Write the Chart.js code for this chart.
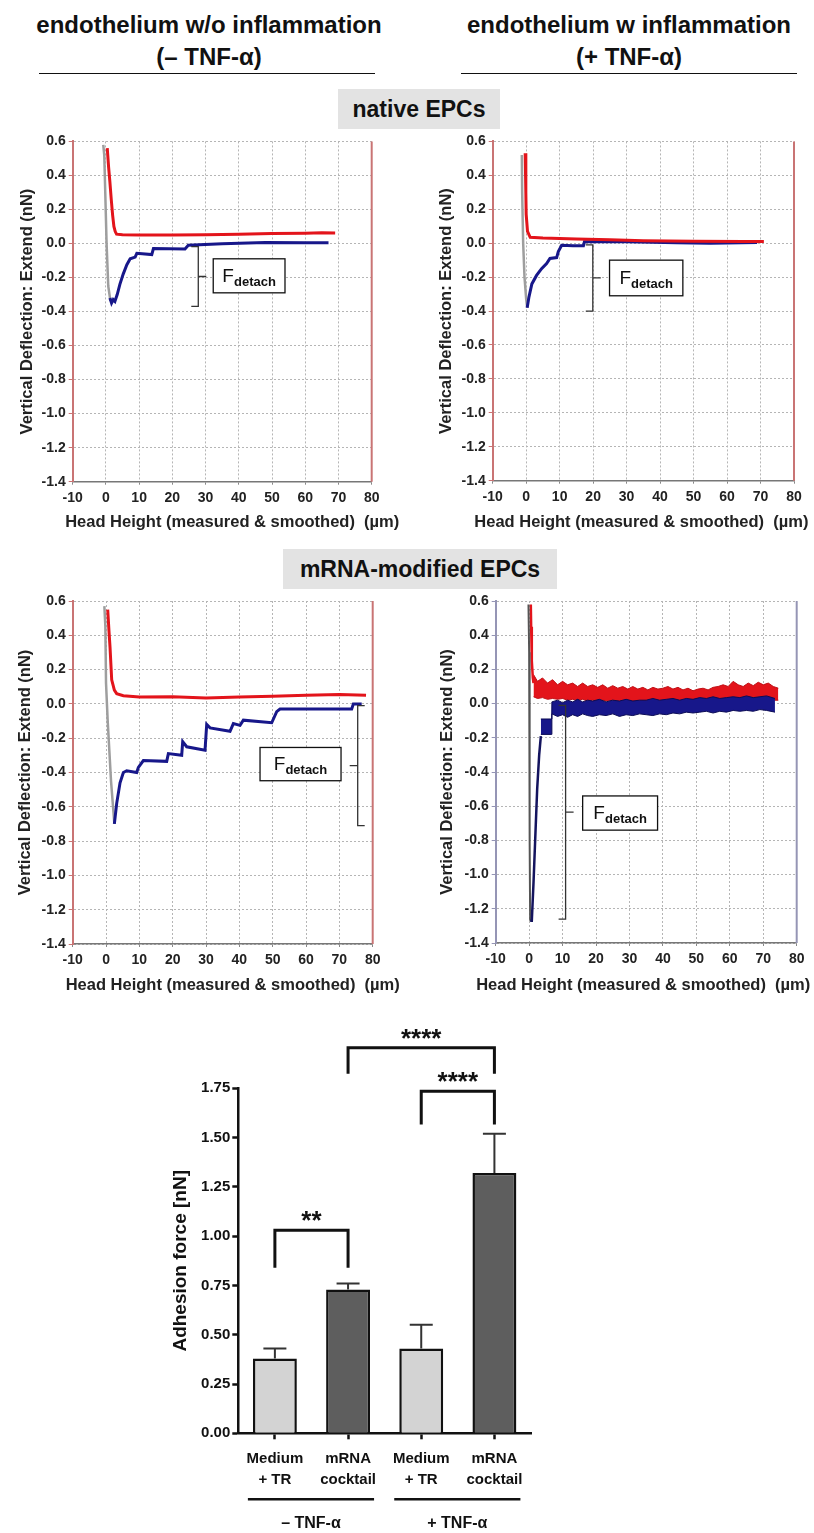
<!DOCTYPE html>
<html>
<head>
<meta charset="utf-8">
<script src="https://cdn.jsdelivr.net/npm/chart.js"></script>
<style>
  body { margin: 0; background: #fff; font-family: "Liberation Sans", Arial, sans-serif; }
  #page { position: relative; width: 814px; height: 1533px; overflow: hidden; }
  .head { position: absolute; font-weight: bold; font-size: 24px; line-height: 32px; text-align: center; color: #111; white-space: nowrap; }
  .rule { position: absolute; height: 0; border-top: 1.5px solid #111; }
  .section { position: absolute; height: 40px; line-height: 40px; background: #e3e3e3; font-weight: bold; font-size: 23px; text-align: center; color: #111; }
  canvas { position: absolute; }
</style>
</head>
<body>
<div id="page">
  <div class="head" style="left:9px;top:9px;width:400px">endothelium w/o inflammation<br>(– TNF-α)</div>
  <div class="head" style="left:429px;top:9px;width:400px">endothelium w inflammation<br>(+ TNF-α)</div>
  <div class="rule" style="left:39px;top:73px;width:336px"></div>
  <div class="rule" style="left:461px;top:73px;width:336px"></div>
  <div class="section" style="left:338px;top:89px;width:162px">native EPCs</div>
  <div class="section" style="left:283px;top:549px;width:274px">mRNA-modified EPCs</div>

  <canvas id="f-native-ctrl" width="410" height="410" style="left:0;top:130px"></canvas>
  <canvas id="f-native-tnf" width="404" height="410" style="left:410px;top:130px"></canvas>
  <canvas id="f-mrna-ctrl" width="410" height="460" style="left:0;top:540px"></canvas>
  <canvas id="f-mrna-tnf" width="404" height="460" style="left:410px;top:540px"></canvas>
  <canvas id="adhesion" width="400" height="533" style="left:160px;top:1000px"></canvas>
</div>

<script>
"use strict";

// ── force curves, [head height µm, deflection nN] ─────────────────────────────
// native EPCs, – TNF-α
const nativeCtrlApproach = [[-0.8,0.58],[-0.5,0.52],[-0.2,0.3],[0.2,0.0],[0.7,-0.25],[1.3,-0.33],[1.7,-0.34]];
const nativeCtrlExtend = [[0.4,0.56],[0.8,0.45],[1.2,0.36],[1.6,0.26],[2.0,0.17],[2.4,0.1],[2.8,0.07],[3.2,0.055],[5,0.052],[10,0.05],[20,0.05],[30,0.052],[40,0.055],[50,0.058],[60,0.06],[65,0.063],[69,0.062]];
const nativeCtrlRetract = [[1.2,-0.32],[1.7,-0.35],[2.2,-0.33],[2.7,-0.34],[3.4,-0.3],[4.2,-0.24],[5.2,-0.18],[6.3,-0.125],[7.3,-0.09],[8.8,-0.08],[9.3,-0.058],[13.8,-0.065],[14.3,-0.03],[23.8,-0.032],[24.8,-0.01],[35,-0.002],[48,0.006],[60,0.004],[67,0.005]];

// native EPCs, + TNF-α
const nativeTnfApproach = [[-1.3,0.52],[-1.2,0.3],[-0.9,0.0],[-0.5,-0.2],[0,-0.33],[0.3,-0.38]];
const nativeTnfExtend = [[-0.3,0.53],[-0.1,0.3],[0,0.17],[0.4,0.07],[1.2,0.035],[5,0.03],[15,0.025],[25,0.02],[35,0.015],[50,0.012],[65,0.01],[71,0.01]];
const nativeTnfRetract = [[0.3,-0.38],[0.8,-0.32],[1.7,-0.24],[3.1,-0.19],[4.6,-0.15],[6.1,-0.12],[7.1,-0.09],[9.1,-0.085],[9.6,-0.05],[10.6,-0.012],[14,-0.015],[17.1,-0.015],[17.4,0.008],[30,0.008],[45,0.002],[55,0.0],[69,0.004]];

// mRNA-modified EPCs, – TNF-α
const mrnaCtrlApproach = [[-0.5,0.57],[-0.2,0.45],[0,0.12],[0.5,-0.1],[1.5,-0.45],[2.5,-0.7]];
const mrnaCtrlExtend = [[0.5,0.55],[0.9,0.42],[1.2,0.33],[1.7,0.14],[2.5,0.08],[3.2,0.06],[5.2,0.048],[10,0.04],[20,0.042],[30,0.035],[40,0.04],[50,0.045],[60,0.05],[70,0.055],[78,0.05]];
const mrnaCtrlRetract = [[2.5,-0.7],[3.2,-0.58],[4.2,-0.46],[5.2,-0.4],[6.2,-0.39],[9.2,-0.4],[9.7,-0.37],[11.2,-0.33],[18.2,-0.335],[18.7,-0.29],[22.7,-0.3],[23,-0.22],[24.2,-0.25],[29.7,-0.27],[30.2,-0.12],[31.2,-0.14],[37.2,-0.16],[38.2,-0.115],[40.2,-0.125],[41.2,-0.095],[49.7,-0.11],[51.2,-0.045],[52.2,-0.03],[73.7,-0.03],[74.2,0.0],[76.7,0.0]];

// mRNA-modified EPCs, + TNF-α (noisy traces read as upper / lower edges)
const mrnaTnfApproach = [[-0.2,0.58],[0,0.3],[0.1,-0.2],[0.2,-0.8],[0.3,-1.27]];
const mrnaTnfExtendSpike = [[0.5,0.58],[0.6,0.45],[0.8,0.25],[1.1,0.15],[1.3,0.12]];
const mrnaTnfRetractRise = [[0.3,-1.27],[0.8,-1.27],[1.3,-1.05],[1.8,-0.8],[2.4,-0.5],[3.0,-0.3],[3.5,-0.19]];
const mrnaTnfExtendX  = [1.3,2.5,4,5.5,7,8.5,10,11.5,13,14.5,16,17.5,19,20.5,22,23.5,25,26.5,28,29.5,31,32.5,34,35.5,37,38.5,40,41.5,43,44.5,46,47.5,49,50.5,52,53.5,55,56.5,58,59.5,61,62.5,64,65.5,67,68.5,70,71.5,73,74.5];
const mrnaTnfExtendHi = [0.17,0.13,0.15,0.12,0.14,0.11,0.13,0.11,0.12,0.10,0.12,0.10,0.11,0.095,0.11,0.09,0.105,0.09,0.10,0.085,0.10,0.085,0.095,0.08,0.095,0.085,0.09,0.10,0.085,0.095,0.08,0.09,0.075,0.085,0.09,0.08,0.095,0.10,0.11,0.10,0.13,0.11,0.10,0.12,0.105,0.125,0.11,0.12,0.10,0.09];
const mrnaTnfExtendLo = [0.04,0.03,0.035,0.025,0.03,0.025,0.03,0.02,0.025,0.02,0.025,0.015,0.02,0.015,0.02,0.015,0.02,0.01,0.015,0.01,0.015,0.01,0.015,0.01,0.02,0.01,0.015,0.01,0.02,0.015,0.01,0.015,0.005,0.01,0.015,0.01,0.02,0.015,0.025,0.02,0.03,0.025,0.02,0.03,0.025,0.03,0.035,0.025,0.02,0.02];
const mrnaTnfRetractX  = [3.5,6.6,6.8,8.5,10,11.5,13,14.5,16,17.5,19,21,23,25,27,29,31,33,35,37,39,41,43,45,47,49,51,53,55,57,59,61,63,65,67,69,71,73.5];
const mrnaTnfRetractHi = [-0.09,-0.09,0.01,0.02,0.005,0.02,0.01,0.025,0.01,0.02,0.015,0.025,0.01,0.02,0.015,0.025,0.015,0.02,0.02,0.03,0.02,0.025,0.03,0.02,0.03,0.025,0.035,0.03,0.04,0.03,0.035,0.04,0.035,0.045,0.035,0.04,0.045,0.03];
const mrnaTnfRetractLo = [-0.18,-0.18,-0.06,-0.075,-0.065,-0.08,-0.065,-0.075,-0.06,-0.07,-0.075,-0.065,-0.07,-0.06,-0.075,-0.065,-0.07,-0.06,-0.065,-0.07,-0.06,-0.065,-0.055,-0.06,-0.05,-0.055,-0.05,-0.045,-0.055,-0.045,-0.05,-0.04,-0.045,-0.04,-0.045,-0.035,-0.04,-0.05];

// ── adhesion force bar chart ──────────────────────────────────────────────────
const barCategories = [["Medium", "+ TR"], ["mRNA", "cocktail"], ["Medium", "+ TR"], ["mRNA", "cocktail"]];
const adhesionMean = [0.38, 0.73, 0.43, 1.32];
const adhesionErr  = [0.05, 0.03, 0.12, 0.20];
const barGroups = ["– TNF-α", "+ TNF-α"];
const significance = [["**", 0, 1], ["****", 2, 3], ["****", 1, 3]];

const RED = "#e3141b";
const BLUE = "#17178a";
const GREY = "#9e9e9e";
const FONT = '"Liberation Sans", Arial, sans-serif';
const X_TITLE = "Head Height (measured & smoothed)  (µm)";

Chart.defaults.font.family = FONT;
Chart.defaults.font.weight = "bold";
Chart.defaults.color = "#222";

// ── helpers ───────────────────────────────────────────────────────────────────
const toPts = arr => arr.map(([x, y]) => ({ x, y }));
const zip = (xs, ys) => xs.map((x, i) => ({ x, y: ys[i] }));

function trace(points, color, width, order) {
  return { data: toPts(points), borderColor: color, borderWidth: width, fill: false, order };
}

function band(xs, hi, lo, fillColor, edgeColor, order) {
  return [
    { data: zip(xs, hi), borderColor: edgeColor, borderWidth: 1, fill: false, order },
    { data: zip(xs, lo), borderColor: edgeColor, borderWidth: 1, fill: "-1", backgroundColor: fillColor, order },
  ];
}

// right frame edge, x title, F_detach brace and box
const forceDecor = {
  id: "forceDecor",
  afterDraw(chart, args, o) {
    const { ctx, chartArea: a, scales: { x, y } } = chart;
    ctx.save();
    ctx.strokeStyle = o.frame;
    ctx.lineWidth = 2;
    ctx.beginPath();
    ctx.moveTo(a.right, a.top);
    ctx.lineTo(a.right, a.bottom);
    ctx.stroke();

    ctx.fillStyle = "#222";
    ctx.font = `bold 16.5px ${FONT}`;
    ctx.textAlign = "center";
    ctx.textBaseline = "middle";
    ctx.fillText(X_TITLE, (a.left + a.right) / 2 + o.titleDx, o.titleY);

    const b = o.brace;
    const bx = x.getPixelForValue(b.x), t = y.getPixelForValue(b.top), bt = y.getPixelForValue(b.bottom);
    const mid = (t + bt) / 2;
    ctx.strokeStyle = "#333";
    ctx.lineWidth = 1.3;
    ctx.beginPath();
    ctx.moveTo(bx - 7 * b.dir, t); ctx.lineTo(bx, t); ctx.lineTo(bx, bt); ctx.lineTo(bx - 7 * b.dir, bt);
    ctx.moveTo(bx, mid); ctx.lineTo(bx + 8 * b.dir, mid);
    ctx.stroke();

    const bb = o.box;
    const x0 = x.getPixelForValue(bb.x0), x1 = x.getPixelForValue(bb.x1);
    const y0 = y.getPixelForValue(bb.y0), y1 = y.getPixelForValue(bb.y1);
    ctx.fillStyle = "#fff";
    ctx.fillRect(x0, y0, x1 - x0, y1 - y0);
    ctx.strokeStyle = "#111";
    ctx.lineWidth = 1.3;
    ctx.strokeRect(x0, y0, x1 - x0, y1 - y0);

    ctx.fillStyle = "#111";
    ctx.textAlign = "left";
    ctx.textBaseline = "alphabetic";
    ctx.font = `normal 19px ${FONT}`;
    const wF = ctx.measureText("F").width;
    ctx.font = `bold 13px ${FONT}`;
    const wS = ctx.measureText("detach").width;
    const sx = (x0 + x1) / 2 - (wF + wS) / 2;
    const base = (y0 + y1) / 2 + 6;
    ctx.font = `normal 19px ${FONT}`;
    ctx.fillText("F", sx, base);
    ctx.font = `bold 13px ${FONT}`;
    ctx.fillText("detach", sx + wF, base + 4);
    ctx.restore();
  },
};

function forcePanel(id, p) {
  return new Chart(document.getElementById(id), {
    type: "line",
    data: { datasets: p.datasets },
    plugins: [forceDecor],
    options: {
      responsive: false,
      animation: false,
      devicePixelRatio: 1,
      layout: { padding: { top: p.top, right: p.right, left: 0, bottom: 0 } },
      elements: { point: { radius: 0 }, line: { tension: 0 } },
      plugins: {
        legend: { display: false },
        tooltip: { enabled: false },
        forceDecor: { frame: p.frame, brace: p.brace, box: p.box, titleDx: p.titleDx, titleY: p.titleY },
      },
      scales: {
        x: {
          type: "linear", min: -10, max: 80,
          afterFit: s => { s.height = p.xh; },
          ticks: { stepSize: 10, padding: 5, maxRotation: 0, font: { size: 14 } },
          grid: { color: "#b5b5b5", tickLength: 3, tickColor: "#888", tickBorderDash: [] },
          border: { color: "#777", width: 1.5, dash: [2, 2] },
        },
        y: {
          min: -1.4, max: 0.6,
          afterFit: s => { s.width = p.yw; },
          ticks: { stepSize: 0.2, padding: 3, font: { size: 14 }, callback: v => (Math.round(v * 10) / 10).toFixed(1) },
          grid: { color: "#b5b5b5", tickLength: 4, tickColor: p.frame, tickBorderDash: [] },
          border: { color: p.frame, width: 2, dash: [2, 2] },
          title: { display: true, text: "Vertical Deflection: Extend (nN)", font: { size: 16.5 }, padding: { top: p.ytPad, bottom: 0 } },
        },
      },
    },
  });
}

// ── force panels ──────────────────────────────────────────────────────────────
forcePanel("f-native-ctrl", {
  top: 9.3, right: 38.3, yw: 72.7, xh: 58.3, ytPad: 17.1, titleDx: 10, titleY: 392, frame: "#c97474",
  brace: { x: 27.8, top: -0.018, bottom: -0.37, dir: 1 },
  box: { x0: 32.3, x1: 53.9, y0: -0.09, y1: -0.29 },
  datasets: [
    trace(nativeCtrlApproach, GREY, 2.5, 3),
    trace(nativeCtrlExtend, RED, 3, 2),
    trace(nativeCtrlRetract, BLUE, 3, 1),
  ],
});

forcePanel("f-native-tnf", {
  top: 9.3, right: 20, yw: 82.7, xh: 59.3, ytPad: 26.8, titleDx: -2, titleY: 392, frame: "#c97474",
  brace: { x: 19.9, top: -0.01, bottom: -0.40, dir: 1 },
  box: { x0: 24.9, x1: 46.8, y0: -0.10, y1: -0.31 },
  datasets: [
    trace(nativeTnfApproach, GREY, 2.5, 3),
    trace(nativeTnfRetract, BLUE, 3, 2),
    trace(nativeTnfExtend, RED, 3, 1),
  ],
});

forcePanel("f-mrna-ctrl", {
  top: 61, right: 37.3, yw: 72.7, xh: 56, ytPad: 15.1, titleDx: 10, titleY: 445, frame: "#c97474",
  brace: { x: 75.5, top: -0.01, bottom: -0.71, dir: -1 },
  box: { x0: 46.2, x1: 70.5, y0: -0.254, y1: -0.448 },
  datasets: [
    trace(mrnaCtrlApproach, GREY, 2.5, 3),
    trace(mrnaCtrlExtend, RED, 3, 2),
    trace(mrnaCtrlRetract, BLUE, 3, 1),
  ],
});

forcePanel("f-mrna-tnf", {
  top: 61, right: 17.3, yw: 85.7, xh: 57, ytPad: 27.4, titleDx: -3, titleY: 445, frame: "#9595b5",
  brace: { x: 10.9, top: -0.01, bottom: -1.26, dir: 1 },
  box: { x0: 16, x1: 38.4, y0: -0.54, y1: -0.74 },
  datasets: [
    ...band(mrnaTnfExtendX, mrnaTnfExtendHi, mrnaTnfExtendLo, RED, "#c01016", 4),
    ...band(mrnaTnfRetractX, mrnaTnfRetractHi, mrnaTnfRetractLo, BLUE, "#0c0c55", 3),
    trace(mrnaTnfExtendSpike, RED, 2.5, 2),
    trace(mrnaTnfRetractRise, "#14145e", 2.5, 1),
    trace(mrnaTnfApproach, "#555", 2, 1),
  ],
});

// ── adhesion bar chart ────────────────────────────────────────────────────────
const barDecor = {
  id: "barDecor",
  afterDraw(chart) {
    const { ctx, scales: { x, y } } = chart;
    ctx.save();

    // error bars (upper only)
    ctx.strokeStyle = "#333";
    ctx.lineWidth = 2;
    adhesionMean.forEach((m, i) => {
      const cx = x.getPixelForValue(i);
      const y0 = y.getPixelForValue(m), y1 = y.getPixelForValue(m + adhesionErr[i]);
      ctx.beginPath();
      ctx.moveTo(cx, y0); ctx.lineTo(cx, y1);
      ctx.moveTo(cx - 11.5, y1); ctx.lineTo(cx + 11.5, y1);
      ctx.stroke();
    });

    // significance brackets
    const levels = [[1.03, 0.84], [1.735, 1.567], [1.956, 1.824]];
    ctx.lineWidth = 3;
    ctx.strokeStyle = "#111";
    ctx.fillStyle = "#111";
    ctx.textAlign = "center";
    ctx.textBaseline = "alphabetic";
    ctx.font = `bold 26px ${FONT}`;
    significance.forEach(([label, a, b], k) => {
      const xa = x.getPixelForValue(a), xb = x.getPixelForValue(b);
      const yt = y.getPixelForValue(levels[k][0]), yl = y.getPixelForValue(levels[k][1]);
      ctx.beginPath();
      ctx.moveTo(xa, yl); ctx.lineTo(xa, yt); ctx.lineTo(xb, yt); ctx.lineTo(xb, yl);
      ctx.stroke();
      ctx.fillText(label, (xa + xb) / 2, yt - 1);
    });

    // TNF-α group lines and labels
    ctx.lineWidth = 2.5;
    ctx.font = `bold 16px ${FONT}`;
    ctx.textBaseline = "middle";
    barGroups.forEach((g, k) => {
      const l = x.getPixelForValue(2 * k) - 27, r = x.getPixelForValue(2 * k + 1) + 26;
      ctx.beginPath();
      ctx.moveTo(l, 499.3); ctx.lineTo(r, 499.3);
      ctx.stroke();
      ctx.fillText(g, (l + r) / 2, 524);
    });
    ctx.restore();
  },
};

new Chart(document.getElementById("adhesion"), {
  type: "bar",
  data: {
    labels: barCategories,
    datasets: [{
      data: adhesionMean,
      backgroundColor: ["#d3d3d3", "#5e5e5e", "#d3d3d3", "#5e5e5e"],
      borderColor: "#111",
      borderWidth: 2.5,
      borderSkipped: "bottom",
      categoryPercentage: 1,
      barPercentage: 0.6,
    }],
  },
  plugins: [barDecor],
  options: {
    responsive: false,
    animation: false,
    devicePixelRatio: 1,
    layout: { padding: { top: 88.3, right: 29, left: 0, bottom: 0 } },
    plugins: { legend: { display: false }, tooltip: { enabled: false } },
    scales: {
      x: {
        afterFit: s => { s.height = 99.7; },
        ticks: { color: "#111", padding: 9, maxRotation: 0, font: { size: 15, lineHeight: 1.4 } },
        grid: { offset: false, drawOnChartArea: false, tickLength: 6, tickColor: "#111", tickWidth: 2.5 },
        border: { color: "#111", width: 2.5 },
      },
      y: {
        min: 0, max: 1.75,
        afterFit: s => { s.width = 78.3; },
        ticks: { stepSize: 0.25, color: "#111", padding: 2, font: { size: 15 }, callback: v => v.toFixed(2) },
        grid: { drawOnChartArea: false, tickLength: 6, tickColor: "#111", tickWidth: 2.5 },
        border: { color: "#111", width: 2.5 },
        title: { display: true, text: "Adhesion force [nN]", color: "#111", font: { size: 19 }, padding: { top: 9.6, bottom: 0 } },
      },
    },
  },
});
</script>
</body>
</html>
